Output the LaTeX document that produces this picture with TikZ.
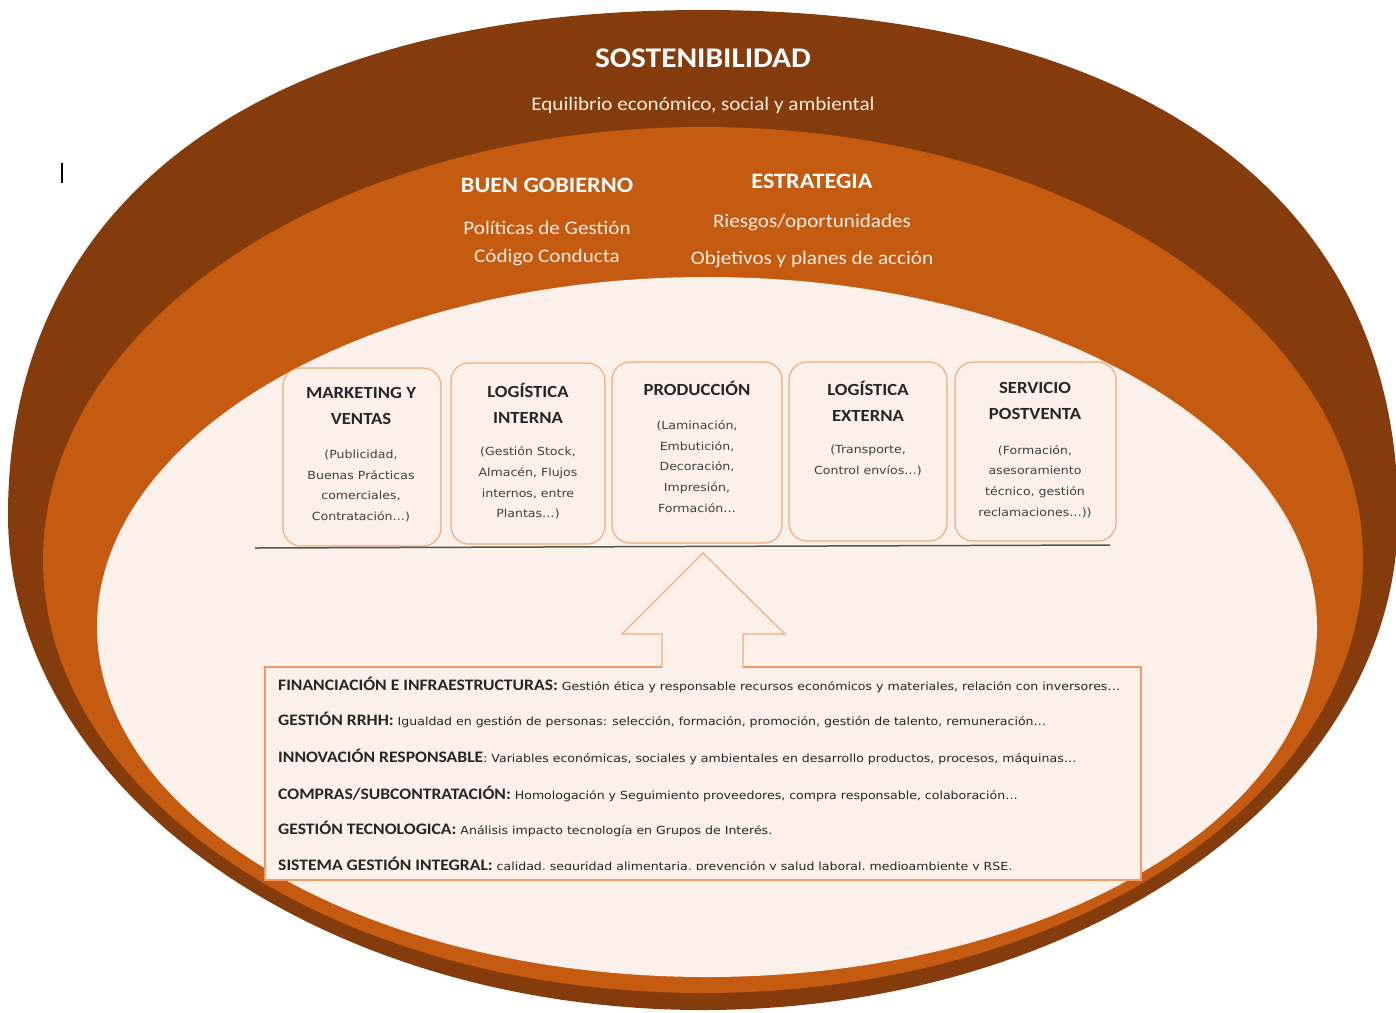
\documentclass[tikz,border=0pt]{standalone}
\usepackage{fontspec}
\setmainfont{Carlito}[FakeStretch=1.1]
\newfontfamily\descfont{DejaVu Sans}[FakeStretch=1.12]
\usetikzlibrary{positioning}
\definecolor{anillo}{HTML}{843C0C}
\definecolor{naranja}{HTML}{C55A11}
\definecolor{crema}{HTML}{FBF0EA}
\definecolor{borde}{HTML}{F1AC7E}
\definecolor{bordeareas}{HTML}{EE9C66}
\definecolor{textoclaro}{HTML}{FCEBDF}
\definecolor{linea}{HTML}{4E5B4C}
\newcommand{\etiq}[1]{{\bfseries\fontsize{16}{19}\selectfont #1}}
\newcommand{\areatxt}[1]{{\descfont\fontsize{11.2}{13}\selectfont #1}}
\tikzset{
    titulo/.style={text=white, font=\bfseries\fontsize{28.5}{34}\selectfont},
    lema/.style={text=textoclaro, font=\fontsize{19.2}{23}\selectfont},
    cabecera/.style={text=white, font=\bfseries\fontsize{22}{26}\selectfont},
    proceso/.style={draw=borde, fill=crema, line width=1.2pt, rounded corners=18pt},
    nombre/.style={text=black!85, align=center, font=\bfseries\fontsize{17}{26}\selectfont},
    detalle/.style={text=black!75, align=center, font=\descfont\fontsize{11.2}{20.7}\selectfont},
    area/.style={anchor=base west, text=black!85, inner sep=0pt},
}
\begin{document}
\begin{tikzpicture}[x=1pt, y=-1pt]
    \useasboundingbox (0,0) rectangle (1396,1012);
    % anillos
    \fill[anillo] (703,10) .. controls (1141,10) and (1398,197) .. (1398,515)
        .. controls (1398,788) and (1087,1010) .. (703,1010)
        .. controls (319,1010) and (8,788) .. (8,515)
        .. controls (8,197) and (265,10) .. cycle;
    \fill[naranja] (703,560) ellipse [x radius=660, y radius=433];
    \fill[crema] (707,627) ellipse [x radius=610, y radius=350];
    \draw[line width=1.5pt] (62,163) -- (62,183);
    % sostenibilidad
    \node[titulo] (sost) at (703,58) {SOSTENIBILIDAD};
    \node[lema] (equil) at (703,105) {Equilibrio económico, social y ambiental};
    \node[cabecera] (gob) at (547,185) {BUEN GOBIERNO};
    \node[lema] (polit) at (547,228) {Políticas de Gestión};
    \node[lema] (cod) at (547,257) {Código Conducta};
    \node[cabecera] (estr) at (812,181) {ESTRATEGIA};
    \node[lema] (ries) at (812,222) {Riesgos/oportunidades};
    \node[lema] (obj) at (812,259) {Objetivos y planes de acción};
    % cadena de valor
    \node[proceso, minimum width=158, minimum height=178] (mv) at (362,457) {};
    \node[proceso, minimum width=154, minimum height=181] (li) at (528,453.5) {};
    \node[proceso, minimum width=170, minimum height=181] (prod) at (697,452.5) {};
    \node[proceso, minimum width=158, minimum height=179] (le) at (868,451.5) {};
    \node[proceso, minimum width=161, minimum height=179] (sp) at (1035.5,451.5) {};
    \node[nombre] (mvn) at (361,406) {MARKETING Y\\VENTAS};
    \node[detalle] (mvd) at (361,486) {(Publicidad,\\Buenas Prácticas\\comerciales,\\Contratación…)};
    \node[nombre] (lin) at (528,403) {LOGÍSTICA\\INTERNA};
    \node[detalle] (lid) at (528,483) {(Gestión Stock,\\Almacén, Flujos\\internos, entre\\Plantas…)};
    \node[nombre] (prodn) at (697,388) {PRODUCCIÓN};
    \node[detalle] (prodd) at (697,466.5) {(Laminación,\\Embutición,\\Decoración,\\Impresión,\\Formación…};
    \node[nombre] (len) at (868,401) {LOGÍSTICA\\EXTERNA};
    \node[detalle] (led) at (868,460.5) {(Transporte,\\Control envíos…)};
    \node[nombre] (spn) at (1035,401) {SERVICIO\\POSTVENTA};
    \node[detalle] (spd) at (1035,481.5) {(Formación,\\asesoramiento\\técnico, gestión\\reclamaciones…))};
    \coordinate (baseL) at (255,548);
    \coordinate (baseR) at (1110,545);
    \draw[linea, line width=1.5pt] (baseL) -- (baseR);
    % areas de apoyo
    \node[proceso, draw=bordeareas, rounded corners=0pt, minimum width=876, minimum height=213] (areas) at (703,773.5) {};
    \draw[borde, line width=1.2pt, fill=crema] (662,668) -- (662,634) -- (622,634) -- (703,553) -- (785,634) -- (743,634) -- (743,668);
    \begin{scope}
        \clip (266,668) rectangle (1140,869);
        \foreach \y/\lab/\txt [count=\i] in {
            690/{FINANCIACIÓN E INFRAESTRUCTURAS:}/{\ Gestión ética y responsable recursos económicos y materiales, relación con inversores…},
            725/{GESTIÓN RRHH:}/{\ Igualdad en gestión de personas: selección, formación, promoción, gestión de talento, remuneración…},
            762/{INNOVACIÓN RESPONSABLE}/{: Variables económicas, sociales y ambientales en desarrollo productos, procesos, máquinas…},
            799/{COMPRAS/SUBCONTRATACIÓN:}/{\ Homologación y Seguimiento proveedores, compra responsable, colaboración…},
            834/{GESTIÓN TECNOLOGICA:}/{\ Análisis impacto tecnología en Grupos de Interés.},
            870/{SISTEMA GESTIÓN INTEGRAL:}/{\ calidad, seguridad alimentaria, prevención y salud laboral, medioambiente y RSE.}}
            \node[area] (area\i) at (278,\y) {\etiq{\lab}\areatxt{\txt}};
    \end{scope}
\end{tikzpicture}
\end{document}
